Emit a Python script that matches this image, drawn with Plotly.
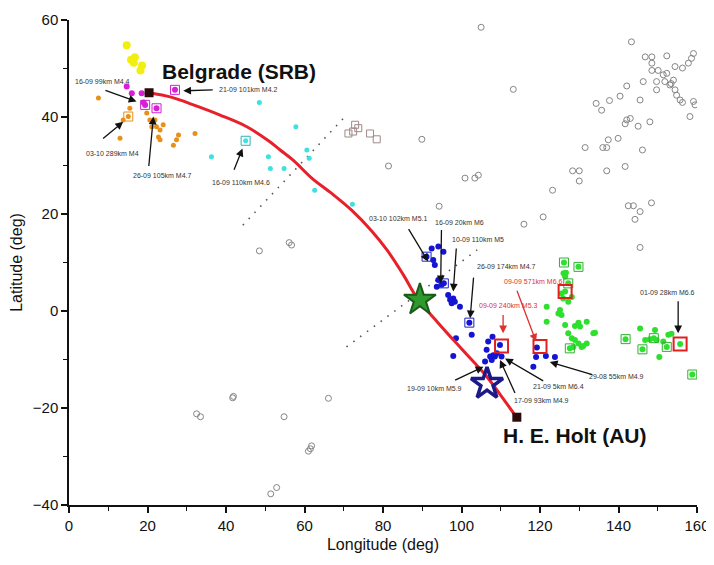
import plotly.graph_objects as go

# ---------------- data (degrees) ----------------
grey_lon = [143.3, 113.2, 146.8, 148.5, 152.3, 159.1, 158.6, 157.8, 148.5, 154.4, 156.3, 148.5, 150.1,
            151.4, 152.3, 153.1, 153.4, 151.8, 149.7, 146.3, 154.0, 149.7, 154.4, 154.8, 155.7, 156.3,
            159.1, 159.5, 158.2, 142.1, 140.4, 145.5, 137.7, 134.3, 135.7, 142.1, 143.0, 141.7, 145.0,
            148.0, 137.4, 139.9, 131.5, 136.0, 137.0, 146.1, 141.7, 128.3, 130.0, 130.0, 137.0, 123.2,
            120.8, 142.5, 143.8, 148.4, 145.5, 144.2, 105.0, 89.9, 81.4, 100.9, 103.4, 104.3, 115.9,
            94.3, 56.1, 56.7, 48.5, 66.1, 145.5, 32.5, 33.5, 41.7, 41.9, 54.8, 51.4, 52.9, 61.0, 61.8,
            61.5]
grey_lat = [55.5, 45.7, 52.4, 52.4, 52.6, 53.1, 52.1, 51.1, 51.1, 50.4, 50.1, 49.6, 49.6,
            48.7, 49.0, 46.6, 46.9, 47.3, 47.3, 47.3, 47.6, 45.6, 45.6, 44.5, 43.5, 43.0,
            43.2, 42.5, 40.1, 46.4, 44.3, 43.5, 43.4, 42.8, 41.4, 39.4, 39.7, 38.6, 38.1,
            39.0, 35.3, 35.6, 33.7, 33.7, 33.7, 33.2, 29.8, 28.9, 28.9, 26.8, 28.9, 24.9,
            19.4, 21.7, 21.7, 22.3, 20.5, 18.9, 58.5, 35.4, 29.9, 27.4, 27.4, 28.0, 17.9,
            21.6, 14.1, 13.6, 12.4, -18.0, 13.1, -21.2, -21.8, -17.9, -17.6, -21.8, -37.7, -36.4, -28.9, -27.8,
            -28.4]

yellow_lon = [14.7, 15.8, 16.5, 16.8, 18.2, 18.6]
yellow_lat = [54.8, 51.8, 51.2, 52.3, 49.6, 50.6]

magenta_lon = [14.7, 16.0, 18.5, 19.4, 19.0, 22.3, 27.0]
magenta_lat = [46.3, 44.9, 44.9, 42.5, 43.0, 41.8, 45.6]

orange_lon = [7.5, 15.5, 15.1, 13.8, 13.0, 19.8, 20.6, 21.1, 22.3, 24.0, 22.8, 23.2, 26.6, 27.4, 27.9,
              32.1, 21.9, 23.2]
orange_lat = [43.9, 41.8, 40.1, 39.4, 35.6, 40.8, 39.4, 38.0, 38.0, 38.4, 35.9, 35.3, 34.2, 35.3, 36.3,
              36.6, 39.4, 37.3]

cyan_lon = [48.5, 57.8, 36.3, 50.8, 51.3, 54.8, 60.6, 61.2, 62.6, 72.2, 45.0]
cyan_lat = [43.0, 38.0, 31.8, 31.8, 29.4, 29.4, 33.2, 31.5, 24.9, 22.0, 35.1]

blue_lon = [92.4, 94.1, 95.4, 92.8, 93.2, 91.1, 94.1, 94.9, 93.7, 95.5, 96.6, 97.1, 97.9, 98.3, 99.6,
            97.5, 102.0, 102.6, 98.6, 97.9, 106.8, 107.9, 109.8, 106.4, 108.1, 107.3, 108.5, 107.7,
            109.0, 110.2, 106.0, 119.2, 119.0, 121.5, 123.8, 118.3]
blue_lat = [12.9, 13.3, 12.2, 10.5, 9.5, 11.2, 6.4, 5.4, 5.0, 5.7, 3.3, 2.3, 2.6, 1.9, 0.9,
            1.6, -2.4, -4.9, -5.6, -9.3, -6.3, -5.3, -7.0, -8.0, -9.1, -9.4, -9.4, -10.1,
            -8.7, -9.4, -10.4, -7.5, -9.5, -9.3, -9.5, -11.5]

green_lon = [126.1, 129.8, 126.6, 126.4, 127.2, 126.4, 125.5, 125.9, 128.1, 127.2, 121.7, 125.1, 125.5,
             124.7, 121.7, 126.4, 128.9, 130.2, 131.9, 129.8, 133.6, 127.2, 128.1, 128.9, 129.8, 130.6,
             128.5, 127.6, 131.9, 141.8, 145.5, 149.3, 146.8, 148.0, 149.0, 149.7, 151.4, 152.3, 152.7,
             153.5, 146.1, 150.4, 155.7, 158.8, 126.0, 131.0, 134.0]
green_lat = [10.0, 9.1, 7.9, 7.1, 5.7, 4.0, 3.6, 2.6, 2.9, 1.9, 0.9, 0.2, -0.8,
             -0.5, -2.2, -2.9, -3.1, -3.2, -2.2, -2.4, -4.6, -4.6, -5.6, -6.0, -6.7, -7.4,
             -7.4, -7.7, -6.7, -5.8, -3.6, -3.9, -6.0, -5.8, -5.6, -6.0, -6.3, -7.4, -4.9,
             -4.7, -7.9, -9.5, -6.8, -13.1, 7.8, -7.2, -4.5]

# highlighted events (open squares)
sq_grey_lon = [72.9, 73.7, 72.4, 71.2, 76.7, 78.4]
sq_grey_lat = [38.4, 37.7, 37.0, 36.6, 36.6, 35.4]
sq_color_lon = [15.1, 19.4, 22.3, 27.0, 45.0, 91.1, 95.5, 102.0,
                126.1, 129.8, 127.2, 141.8, 146.1, 149.0, 152.3, 158.8, 127.6]
sq_color_lat = [40.1, 42.5, 41.8, 45.6, 35.1, 11.2, 5.7, -2.4,
                10.0, 9.1, 5.7, -5.8, -7.9, -5.6, -7.4, -13.1, -7.7]
sq_color_col = ["#e8901a", "#d020d0", "#d020d0", "#d020d0", "#30b0b0", "#2020c0", "#2020c0", "#2020c0",
                "#30b030", "#30b030", "#30b030", "#30b030", "#30b030", "#30b030", "#30b030", "#30b030", "#30b030"]
sq_red_lon = [110.2, 120.0, 155.7, 126.4]
sq_red_lat = [-7.2, -7.3, -6.8, 4.0]

# great-circle path Belgrade -> H. E. Holt
path_lon = [20.4, 26.0, 31.7, 38.5, 45.3, 51.0, 53.8, 57.1, 62.0, 67.0, 72.0, 77.0, 81.0, 85.0, 89.0,
            94.0, 100.0, 106.4, 110.0, 114.1]
path_lat = [45.0, 44.1, 42.5, 40.4, 38.0, 35.0, 33.2, 31.1, 27.3, 24.2, 20.8, 16.6, 12.6, 7.7, 2.3,
            -2.4, -7.8, -13.5, -17.4, -22.0]

# dotted tracks
trackA_lon = [44.3, 70.7]
trackA_lat = [17.7, 40.4]
trackB_lon = [70.7, 104.0]
trackB_lat = [-7.4, 12.6]

station_lon = [20.4, 114.1]
station_lat = [45.0, -21.9]
station_names = ["Belgrade (SRB)", "H. E. Holt (AU)"]
station_label_lon = [43.3, 128.9]
station_label_lat = [49.3, -25.6]

star_green = (89.4, 2.3)
star_blue = (106.5, -15.0)

labels = ["16-09 99km M4.4", "21-09 101km M4.2", "03-10 289km M4", "26-09 105km M4.7",
          "16-09 110km M4.6", "03-10 102km M5.1", "16-09 20km M6", "10-09 110km M5",
          "26-09 174km M4.7", "09-09 571km M6.6", "09-09 240km M5.3", "19-09 10km M5.9",
          "17-09 93km M4.9", "21-09 5km M6.4", "29-08 55km M4.9", "01-09 28km M6.6"]
label_lon = [8.5, 45.5, 11.0, 23.6, 43.7, 83.8, 99.6, 104.1, 111.3, 118.1, 111.9, 93.2,
             120.4, 124.8, 139.4, 152.5]
label_lat = [47.3, 45.6, 32.5, 28.0, 26.5, 19.1, 18.2, 14.8, 9.1, 6.0, 1.2, -15.9,
             -18.4, -15.6, -13.5, 3.8]
label_red = [False, False, False, False, False, False, False, False, False, True, True, False,
             False, False, False, False]
tail_lon = [8.9, 37.0, 8.3, 20.3, 41.9, 86.3, 94.9, 98.7, 103.1, 114.0, 110.6, 98.0, 113.8, 121.2, 133.7, 155.2]
tail_lat = [45.6, 45.6, 35.3, 29.6, 28.8, 17.2, 17.0, 13.2, 7.2, 4.5, -0.5, -14.4, -17.2, -14.6, -13.2, 2.3]
head_lon = [17.2, 29.1, 13.8, 21.5, 44.2, 91.5, 94.7, 97.9, 102.2, 119.0, 110.6, 105.6, 109.8, 111.1, 122.5, 155.2]
head_lat = [43.2, 45.4, 39.0, 40.1, 33.5, 10.2, 5.7, 4.0, -1.5, -6.3, -4.6, -11.5, -10.1, -9.8, -10.5, -4.6]

FONT = "Liberation Sans, Arial, sans-serif"

fig = go.Figure()

# dotted tracks
for lx, ly in [(trackA_lon, trackA_lat), (trackB_lon, trackB_lat)]:
    fig.add_trace(go.Scatter(x=lx, y=ly, mode="lines",
                             line=dict(color="#555555", width=1.6, dash="1.5px,7px"),
                             hoverinfo="skip", showlegend=False))

# background events
fig.add_trace(go.Scatter(x=grey_lon, y=grey_lat, mode="markers",
                         marker=dict(symbol="circle-open", size=6, color="#858585", line=dict(width=1)),
                         showlegend=False))
fig.add_trace(go.Scatter(x=sq_grey_lon, y=sq_grey_lat, mode="markers",
                         marker=dict(symbol="square-open", size=7, color="#a08888", line=dict(width=1)),
                         showlegend=False))

groups = [
    (yellow_lon, yellow_lat, "#f2ee10", 8),
    (orange_lon, orange_lat, "#e8901a", 5),
    (magenta_lon, magenta_lat, "#d81ed8", 6),
    (cyan_lon, cyan_lat, "#3fe0e0", 5),
    (blue_lon, blue_lat, "#1414d2", 6),
    (green_lon, green_lat, "#2ee02e", 6),
]
for gx, gy, col, sz in groups:
    fig.add_trace(go.Scatter(x=gx, y=gy, mode="markers",
                             marker=dict(symbol="circle", size=sz, color=col, line=dict(width=0)),
                             showlegend=False))

fig.add_trace(go.Scatter(x=sq_color_lon, y=sq_color_lat, mode="markers",
                         marker=dict(symbol="square-open", size=9, color=sq_color_col, line=dict(width=1)),
                         showlegend=False))
fig.add_trace(go.Scatter(x=sq_red_lon, y=sq_red_lat, mode="markers",
                         marker=dict(symbol="square-open", size=13, color="#e02020", line=dict(width=2)),
                         showlegend=False))

# path
fig.add_trace(go.Scatter(x=path_lon, y=path_lat, mode="lines",
                         line=dict(color="#e8202a", width=3, shape="spline"),
                         showlegend=False))

# stars
fig.add_trace(go.Scatter(x=[star_green[0]], y=[star_green[1]], mode="markers",
                         marker=dict(symbol="star", size=24, color="#2e9a2e",
                                     line=dict(color="#1a5a1a", width=2)),
                         showlegend=False))
fig.add_trace(go.Scatter(x=[star_blue[0]], y=[star_blue[1]], mode="markers",
                         marker=dict(symbol="star-open", size=24, color="#1a1a8a",
                                     line=dict(width=3.5)),
                         showlegend=False))

# stations
fig.add_trace(go.Scatter(x=station_lon, y=station_lat, mode="markers",
                         marker=dict(symbol="square", size=9, color="#2a0a0a"),
                         showlegend=False))

annotations = []
for name, sx, sy in zip(station_names, station_label_lon, station_label_lat):
    annotations.append(dict(x=sx, y=sy, xref="x", yref="y", text="<b>%s</b>" % name, showarrow=False,
                            font=dict(family=FONT, size=21, color="#111111")))
for t, lx, ly, red in zip(labels, label_lon, label_lat, label_red):
    annotations.append(dict(x=lx, y=ly, xref="x", yref="y", text=t, showarrow=False,
                            font=dict(family=FONT, size=7, color="#e03030" if red else "#333333")))
for tx, ty, hx, hy, red in zip(tail_lon, tail_lat, head_lon, head_lat, label_red):
    annotations.append(dict(x=hx, y=hy, ax=tx, ay=ty, xref="x", yref="y", axref="x", ayref="y",
                            text="", showarrow=True, arrowhead=2, arrowsize=1.2, arrowwidth=1.3,
                            arrowcolor="#e03030" if red else "#111111"))

# page has an 8px body margin, so the figure is sized to fit inside it
fig.update_layout(
    width=706, height=557,
    margin=dict(l=61, r=17, t=12, b=60),
    paper_bgcolor="white", plot_bgcolor="white",
    font=dict(family=FONT, size=15, color="#111111"),
    annotations=annotations,
    showlegend=False,
)
fig.update_xaxes(range=[0, 160], dtick=20, tick0=0, showgrid=False, zeroline=False,
                 showline=True, linecolor="#111111", linewidth=1.5,
                 ticks="outside", ticklen=6, tickwidth=1.5, tickcolor="#111111",
                 minor=dict(dtick=10, ticks="outside", ticklen=4, tickcolor="#111111", tickwidth=1),
                 title=dict(text="Longitude (deg)", font=dict(size=16), standoff=6),
                 tickfont=dict(size=15), automargin=False)
fig.update_yaxes(range=[-40, 60], dtick=20, tick0=-40, showgrid=False, zeroline=False,
                 showline=True, linecolor="#111111", linewidth=1.5,
                 ticks="outside", ticklen=6, tickwidth=1.5, tickcolor="#111111",
                 minor=dict(dtick=10, ticks="outside", ticklen=4, tickcolor="#111111", tickwidth=1),
                 title=dict(text="Latitude (deg)", font=dict(size=16), standoff=6),
                 tickfont=dict(size=15), automargin=False)

fig.write_html("out.html")
